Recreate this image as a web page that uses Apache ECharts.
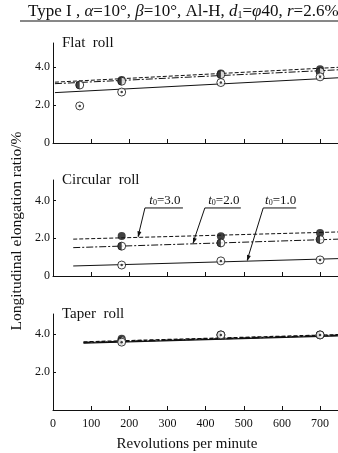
<!DOCTYPE html>
<html>
<head>
<meta charset="utf-8">
<style>
  html, body { margin: 0; padding: 0; background: #fff; }
  #main { width: 338px; height: 453px; }
</style>
<script src="https://cdn.jsdelivr.net/npm/echarts@6.0.0/dist/echarts.min.js"></script>
</head>
<body>
<div id="main"></div>
<script>
// 测点转速
const rpm = [70, 180, 440, 700];

// Flat roll
const flatT10 = [1.95, 2.68, 3.18, 3.48];
const flatT20 = [3.05, 3.25, 3.6, 3.75];
const flatT30 = [null, 3.32, 3.66, 3.88];
const flatFitX = [5, 747];
const flatFitT10 = [2.65, 3.43];
const flatFitT20 = [3.12, 3.85];
const flatFitT30 = [3.2, 3.98];

// Circular roll
const circT10 = [null, 0.58, 0.8, 0.85];
const circT20 = [null, 1.58, 1.75, 1.93];
const circT30 = [null, 2.12, 2.1, 2.28];
const circFitX = [53, 747];
const circFitT10 = [0.53, 0.92];
const circFitT20 = [1.5, 1.95];
const circFitT30 = [1.95, 2.33];

// Taper roll
const taperT10 = [null, 3.57, 3.95, 3.95];
const taperT20 = [null, 3.65, 3.95, 3.95];
const taperT30 = [null, 3.75, 3.95, 3.95];
const taperFitX = [80, 747];
const taperFitT10 = [3.52, 3.9];
const taperFitT20 = [3.55, 3.93];
const taperFitT30 = [3.58, 3.96];

const xTicks = [100, 200, 300, 400, 500, 600, 700];
const xLabels = [0, 100, 200, 300, 400, 500, 600, 700];
const yLabels = [[0, 2, 4], [0, 2, 4], [2, 4]];
const yTicks = [2, 4];
const panelNames = ["Flat  roll", "Circular  roll", "Taper  roll"];
const t0Names = ["3.0", "2.0", "1.0"];

const INK = "#111";
const SERIF = "'Liberation Serif', 'DejaVu Serif', serif";

const grids = [
  { left: 53, top: 43, width: 285, height: 100 },
  { left: 53, top: 180, width: 285, height: 96 },
  { left: 53, top: 314, width: 285, height: 96 },
];
const yMax = [5.26, 5.08, 5.05];

const pairs = (xs, ys) =>
  xs.map((x, i) => [x, ys[i]]).filter((p) => p[1] != null);

const panels = [
  { pts: [flatT10, flatT20, flatT30], fitX: flatFitX, fit: [flatFitT10, flatFitT20, flatFitT30] },
  { pts: [circT10, circT20, circT30], fitX: circFitX, fit: [circFitT10, circFitT20, circFitT30] },
  { pts: [taperT10, taperT20, taperT30], fitX: taperFitX, fit: [taperFitT10, taperFitT20, taperFitT30] },
];

const lineTypes = ["solid", [7, 2, 2, 2], [4, 2]];

const series = [];
panels.forEach((p, g) => {
  // 拟合线
  p.fit.forEach((ys, k) => {
    series.push({
      type: "line",
      xAxisIndex: g,
      yAxisIndex: g,
      data: pairs(p.fitX, ys),
      symbol: "none",
      silent: true,
      z: 2,
      lineStyle: { color: INK, width: g === 2 ? 1.4 : 1, type: lineTypes[k] },
    });
  });
  // ● t0=3.0
  series.push({
    type: "scatter", xAxisIndex: g, yAxisIndex: g, z: 3,
    data: pairs(rpm, p.pts[2]), symbol: "circle", symbolSize: 8,
    itemStyle: { color: INK },
  });
  // ◐ t0=2.0
  series.push({
    type: "scatter", xAxisIndex: g, yAxisIndex: g, z: 4,
    data: pairs(rpm, p.pts[1]), symbol: "circle", symbolSize: 8,
    itemStyle: { color: "#fff", borderColor: INK, borderWidth: 1 },
  });
  series.push({
    type: "scatter", xAxisIndex: g, yAxisIndex: g, z: 5,
    data: pairs(rpm, p.pts[1]), symbol: "path://M1,0 A1,1 0 0,0 1,2 Z",
    symbolKeepAspect: true, symbolSize: 8, symbolOffset: [-2, 0],
    itemStyle: { color: INK },
  });
  // ⊙ t0=1.0
  series.push({
    type: "scatter", xAxisIndex: g, yAxisIndex: g, z: 6,
    data: pairs(rpm, p.pts[0]), symbol: "circle", symbolSize: 8,
    itemStyle: { color: "#fff", borderColor: INK, borderWidth: 1 },
  });
  series.push({
    type: "scatter", xAxisIndex: g, yAxisIndex: g, z: 7,
    data: pairs(rpm, p.pts[0]), symbol: "circle", symbolSize: 2.5,
    itemStyle: { color: INK },
  });
});

const xAxis = grids.map((_, g) => ({
  type: "value", gridIndex: g, min: 0, max: 747,
  axisLine: { show: true, onZero: false, lineStyle: { color: INK, width: 1 } },
  axisTick: { show: true, inside: true, length: 4, customValues: xTicks, lineStyle: { color: INK } },
  axisLabel: {
    show: g === 2, customValues: xLabels, margin: 8,
    color: INK, fontFamily: SERIF, fontSize: 12,
  },
  splitLine: { show: false },
}));

const yAxis = grids.map((_, g) => ({
  type: "value", gridIndex: g, min: 0, max: yMax[g],
  axisLine: { show: true, lineStyle: { color: INK, width: 1 } },
  axisTick: { show: true, inside: true, length: 3, customValues: yTicks, lineStyle: { color: INK } },
  axisLabel: {
    customValues: yLabels[g], margin: 3,
    color: INK, fontFamily: SERIF, fontSize: 12,
    formatter: (v) => (v === 0 ? "0" : v.toFixed(1)),
  },
  splitLine: { show: false },
}));

const rich = {
  i: { fontStyle: "italic", fontFamily: SERIF, fontSize: 17, color: INK },
  s: { fontFamily: SERIF, fontSize: 10, color: INK, verticalAlign: "bottom", padding: [7, 0, 0, 0] },
};

const graphic = [
  {
    type: "text", left: 28, top: 3,
    style: {
      text: "Type I , {i|α}=10°, {i|β}=10°, Al-H, {i|d}{s|1}={i|φ}40, {i|r}=2.6%",
      fontFamily: SERIF, fontSize: 17, fill: INK, rich: rich,
    },
  },
  { type: "line", shape: { x1: 20, y1: 21, x2: 338, y2: 21 }, style: { stroke: INK, lineWidth: 1 } },
  {
    type: "text", x: 17, y: 231, rotation: Math.PI / 2,
    style: {
      text: "Longitudinal elongation ratio/%", fontFamily: SERIF, fontSize: 15.5,
      fill: INK, align: "center", verticalAlign: "middle",
    },
  },
  {
    type: "text", x: 187, y: 444,
    style: {
      text: "Revolutions per minute", fontFamily: SERIF, fontSize: 15,
      fill: INK, align: "center", verticalAlign: "middle",
    },
  },
];
panelNames.forEach((name, g) => {
  graphic.push({
    type: "text", x: 62, y: grids[g].top + 0,
    style: { text: name, fontFamily: SERIF, fontSize: 15, fill: INK, verticalAlign: "middle" },
  });
});

const chart = echarts.init(document.getElementById("main"), null, { renderer: "canvas" });
chart.setOption({
  animation: false,
  backgroundColor: "#fff",
  grid: grids,
  xAxis: xAxis,
  yAxis: yAxis,
  series: series,
  graphic: graphic,
});

// 引出线标注 t0 (Circular roll)
const annoTipX = [223, 367, 509];       // 箭头所指转速
const annoFit = [circFitT30, circFitT20, circFitT10];
const annoLeftX = [241, 398, 551];      // 下划线左端转速
const annoY = 3.6;
const annoLen = [38, 36, 33];
const fitAt = (ys, x) => ys[0] + (x - circFitX[0]) / (circFitX[1] - circFitX[0]) * (ys[1] - ys[0]);

const extra = [];
annoTipX.forEach((tx, k) => {
  const tip = chart.convertToPixel({ gridIndex: 1 }, [tx, fitAt(annoFit[k], tx)]);
  const a = chart.convertToPixel({ gridIndex: 1 }, [annoLeftX[k], annoY]);
  extra.push({ type: "line", shape: { x1: a[0], y1: a[1], x2: a[0] + annoLen[k], y2: a[1] }, style: { stroke: INK, lineWidth: 1 } });
  extra.push({ type: "line", shape: { x1: a[0], y1: a[1], x2: tip[0], y2: tip[1] - 1 }, style: { stroke: INK, lineWidth: 1 } });
  const ang = Math.atan2(tip[1] - a[1], tip[0] - a[0]);
  const L = 6, W = 2;
  const bx = tip[0] - L * Math.cos(ang), by = tip[1] - L * Math.sin(ang);
  extra.push({
    type: "polygon",
    shape: { points: [[tip[0], tip[1]], [bx + W * Math.sin(ang), by - W * Math.cos(ang)], [bx - W * Math.sin(ang), by + W * Math.cos(ang)]] },
    style: { fill: INK },
  });
  extra.push({
    type: "text", x: a[0] + annoLen[k] / 2 + 1, y: a[1] - 1,
    style: {
      text: "{i|t}{s|0}=" + t0Names[k], fontFamily: SERIF, fontSize: 13, fill: INK,
      align: "center", verticalAlign: "bottom",
      rich: { i: { fontStyle: "italic", fontFamily: SERIF, fontSize: 13, color: INK }, s: { fontFamily: SERIF, fontSize: 8, color: INK, verticalAlign: "bottom", padding: [5, 0, 0, 0] } },
    },
  });
});
chart.setOption({ graphic: graphic.concat(extra) });
</script>
</body>
</html>
